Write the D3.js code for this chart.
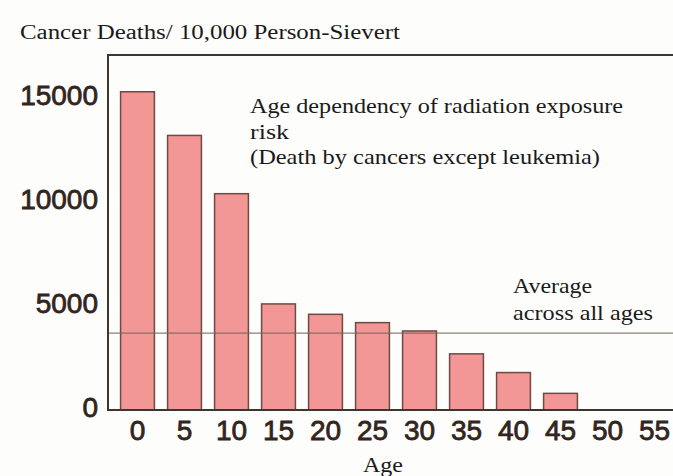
<!DOCTYPE html>
<html>
  <head>
    <title>Cancer deaths by age at exposure</title>
    <script src="https://d3js.org/d3.v7.min.js"></script>
    <style>
      body { margin: 0; background: #fdfdfb; }
      svg { display: block; }
      .tick-label {
        font-family: "Liberation Sans", Arial, sans-serif;
        font-size: 28px;
        fill: #32251d;
        stroke: #32251d;
        stroke-width: 0.8px;
      }
      .serif {
        font-family: "Liberation Serif", "Times New Roman", serif;
        fill: #1a1a1a;
      }
      .bar {
        fill: #f29696;
        stroke: #6e4a44;
        stroke-width: 1.5px;
      }
    </style>
  </head>
  <body>
    <svg width="673" height="476"></svg>
    <script>
      // data
      var ages = ["0", "5", "10", "15", "20", "25", "30", "35", "40", "45", "50", "55"];
      var deaths = [15300, 13200, 10400, 5100, 4600, 4200, 3800, 2700, 1800, 800, 0, 0];
      var yTicks = [0, 5000, 10000, 15000];
      var average = 3700;

      var svg = d3.select("svg");
      var m = { left: 108, bottom: 410, top: 55, right: 673 };

      // band scale for ages, linear scale for deaths
      var x = d3.scaleBand()
        .domain(ages)
        .range([114, 678])
        .paddingInner(0.28)
        .paddingOuter(0.14);

      var y = d3.scaleLinear()
        .domain([0, 15000])
        .range([m.bottom, m.bottom - 15000 * 0.0208]);

      // serif text helper, widths
      function serifText(str, xPos, yPos, size, len) {
        svg.append("text")
          .attr("class", "serif")
          .attr("x", xPos)
          .attr("y", yPos)
          .attr("font-size", size)
          .attr("textLength", len)
          .attr("lengthAdjust", "spacingAndGlyphs")
          .text(str);
      }

      // title
      serifText("Cancer Deaths/ 10,000 Person-Sievert", 20, 39, 20, 380);

      // bars
      svg.selectAll(".bar")
        .data(deaths.map(function (d, i) { return { age: ages[i], value: d }; })
          .filter(function (d) { return d.value > 0; }))
        .enter().append("rect")
        .attr("class", "bar")
        .attr("x", function (d) { return x(d.age); })
        .attr("y", function (d) { return y(d.value); })
        .attr("width", x.bandwidth())
        .attr("height", function (d) { return m.bottom - y(d.value); });

      // average line
      svg.append("line")
        .attr("x1", m.left).attr("x2", m.right)
        .attr("y1", y(average)).attr("y2", y(average))
        .attr("stroke", "#6f6458")
        .attr("stroke-opacity", 0.8)
        .attr("stroke-width", 1.3);

      // frame: left axis, top line and baseline
      svg.append("path")
        .attr("d", "M" + m.right + "," + m.top + "H" + m.left + "V" + m.bottom + "H" + m.right)
        .attr("fill", "none")
        .attr("stroke", "#3d3631")
        .attr("stroke-width", 2);

      // y axis labels
      var yAxis = svg.append("g")
        .attr("transform", "translate(" + (m.left - 10) + ",0)")
        .call(d3.axisLeft(y).tickValues(yTicks).tickSize(0).tickPadding(0).tickFormat(d3.format("d")));
      yAxis.select(".domain").remove();
      yAxis.selectAll("text")
        .attr("class", "tick-label")
        .attr("dy", "0.3em")
        .attr("y", -2)
        .attr("font-size", null)
        .attr("font-family", null);

      // x axis labels
      var xAxis = svg.append("g")
        .attr("transform", "translate(0," + m.bottom + ")")
        .call(d3.axisBottom(x).tickSize(0).tickPadding(10));
      xAxis.select(".domain").remove();
      xAxis.selectAll("text")
        .attr("class", "tick-label")
        .attr("font-size", null)
        .attr("font-family", null);

      // annotations
      serifText("Age dependency of radiation exposure", 250, 113, 22, 373);
      serifText("risk", 250, 139, 22, 39);
      serifText("(Death by cancers except leukemia)", 250, 164, 22, 350);
      serifText("Average", 513, 293, 21, 79);
      serifText("across all ages", 513, 320, 21, 140);

      // x axis title
      serifText("Age", 363, 472, 22, 40);
    </script>
  </body>
</html>
